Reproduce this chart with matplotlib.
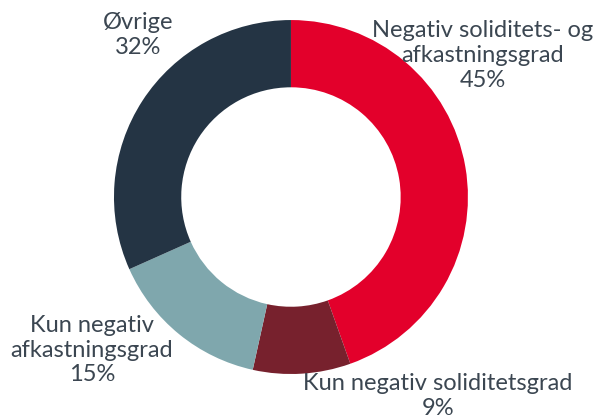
import matplotlib.pyplot as plt

labels = ["Negativ soliditets- og\nafkastningsgrad", "Kun negativ soliditetsgrad",
          "Kun negativ\nafkastningsgrad", "Øvrige"]
shares = [45, 9, 15, 32]
colors = ["#E3002B", "#77212D", "#7FA7AD", "#243444"]

# label anchor points in data units (pie radius = 1)
label_pos = [(1.085, 0.80), (0.83, -1.125), (-1.125, -0.865), (-0.865, 0.915)]

fig = plt.figure(figsize=(5.95, 4.19), dpi=100)
ax = fig.add_axes([0, 0, 1, 1])

ax.pie(shares, colors=colors, startangle=90, counterclock=False, radius=1,
       wedgeprops=dict(width=0.38, linewidth=0))

for lab, val, (x, y) in zip(labels, shares, label_pos):
    ax.text(x, y, f"{lab}\n{val}%", ha="center", va="center", fontsize=17,
            family="Lato", color="#3B4651", linespacing=1.22)

ax.set_xlim(-1.644, 1.718)
ax.set_ylim(-1.254, 1.113)
ax.set_aspect("equal")
ax.axis("off")

fig.savefig("out.png", dpi=100)
